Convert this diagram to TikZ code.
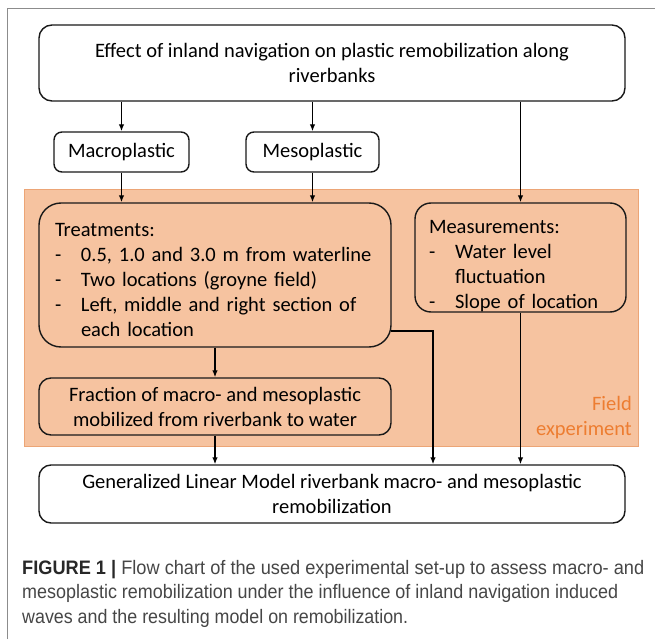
\documentclass[tikz,border=0pt]{standalone}
\usepackage{graphicx}
\usepackage{fontspec}
\setmainfont{Carlito}
\newfontfamily\capfont{Liberation Sans}
\usetikzlibrary{arrows.meta}
\definecolor{fieldfill}{RGB}{246,195,160}
\definecolor{fieldline}{RGB}{236,165,118}
\definecolor{fieldtext}{RGB}{237,125,49}
\definecolor{framegray}{RGB}{140,140,140}
\definecolor{captext}{RGB}{70,70,70}
\definecolor{capbold}{RGB}{40,40,40}
\begin{document}
\begin{tikzpicture}[x=1pt,y=-1pt,
  box/.style={draw=black!90, line width=1.4pt, rounded corners=#1, inner sep=0pt,
    font=\fontsize{20.5}{25}\selectfont, align=center},
  box/.default=12pt,
  arr/.style={draw=black, line width=1.3pt, -{Latex[length=7pt,width=5.5pt]}},
  captxt/.style={inner sep=0pt, font=\capfont\fontsize{19.5}{24}\selectfont, text=captext},
]
\useasboundingbox (0,0) rectangle (655,639);
% outer frame
\draw[framegray, line width=1.5pt] (7.7,639) -- (7.7,8.3) -- (655,8.3);
% field experiment region
\fill[fieldfill, draw=fieldline, line width=1pt] (24,189) rectangle (638,446);
\node[inner sep=0pt, anchor=east, align=right, text=fieldtext,
  font=\fontsize{20.5}{25}\selectfont] (fieldlbl) at (632,418) {Field\\experiment};

% boxes
\node[box=13pt, minimum width=586pt, minimum height=76pt] (top) at (332,63)
  {Effect of inland navigation on plastic remobilization along\\riverbanks};
\node[box=8pt, minimum width=135pt, minimum height=40pt] (macro) at (121.5,152) {Macroplastic};
\node[box=8pt, minimum width=133pt, minimum height=40pt] (meso) at (312.5,152) {Mesoplastic};
\node[box=22pt, minimum width=352pt, minimum height=144pt, text width=320pt,
  inner xsep=16pt, align=left] (treat) at (215,275)
  {\rule{0pt}{23pt}Treatments:\\
   \makebox[26pt][l]{-}0.5, 1.0 and 3.0 m from waterline\\
   \makebox[26pt][l]{-}Two locations (groyne field)\\
   \makebox[26pt][l]{-}Left, middle and right section of\\
   \hspace*{26pt}each location};
\node[box=16pt, minimum width=211pt, minimum height=109pt, text width=183pt,
  inner xsep=14pt, align=left] (meas) at (520.5,257.5)
  {\rule{0pt}{30pt}Measurements:\\
   \makebox[26pt][l]{-}Water level\\
   \hspace*{26pt}fluctuation\\
   \makebox[26pt][l]{-}Slope of location};
\node[box=12pt, minimum width=352pt, minimum height=57pt] (frac) at (215,406.5)
  {Fraction of macro- and mesoplastic\\mobilized from riverbank to water};
\node[box=12pt, minimum width=586pt, minimum height=58pt] (glm) at (332,494)
  {Generalized Linear Model riverbank macro- and mesoplastic\\remobilization};

% connectors
\draw[arr] (macro.north |- top.south) -- (macro.north);
\draw[arr] (meso.north |- top.south) -- (meso.north);
\draw[arr] (meas.north |- top.south) -- (meas.north);
\draw[arr] (macro.south) -- (macro.south |- treat.north);
\draw[arr] (meso.south) -- (meso.south |- treat.north);
\draw[arr] (treat.south) -- (frac.north);
\draw[arr] (frac.south) -- (frac.south |- glm.north);
\coordinate (tr) at (391,331);
\coordinate (trdown) at (433,0);
\draw[arr] (tr) -| (trdown |- glm.north);
\draw[arr] (meas.south) -- (meas.south |- glm.north);

% caption
\node[captxt, anchor=base west] (cap1) at (22,574)
  {\resizebox{622pt}{\height}{{\bfseries\color{capbold}FIGURE 1 |} Flow chart of the used experimental set-up to assess macro- and}};
\node[captxt, anchor=base west] (cap2) at (22,598.5)
  {\resizebox{596pt}{\height}{mesoplastic remobilization under the influence of inland navigation induced}};
\node[captxt, anchor=base west] (cap3) at (22,623)
  {\resizebox{386pt}{\height}{waves and the resulting model on remobilization.}};
\end{tikzpicture}
\end{document}
